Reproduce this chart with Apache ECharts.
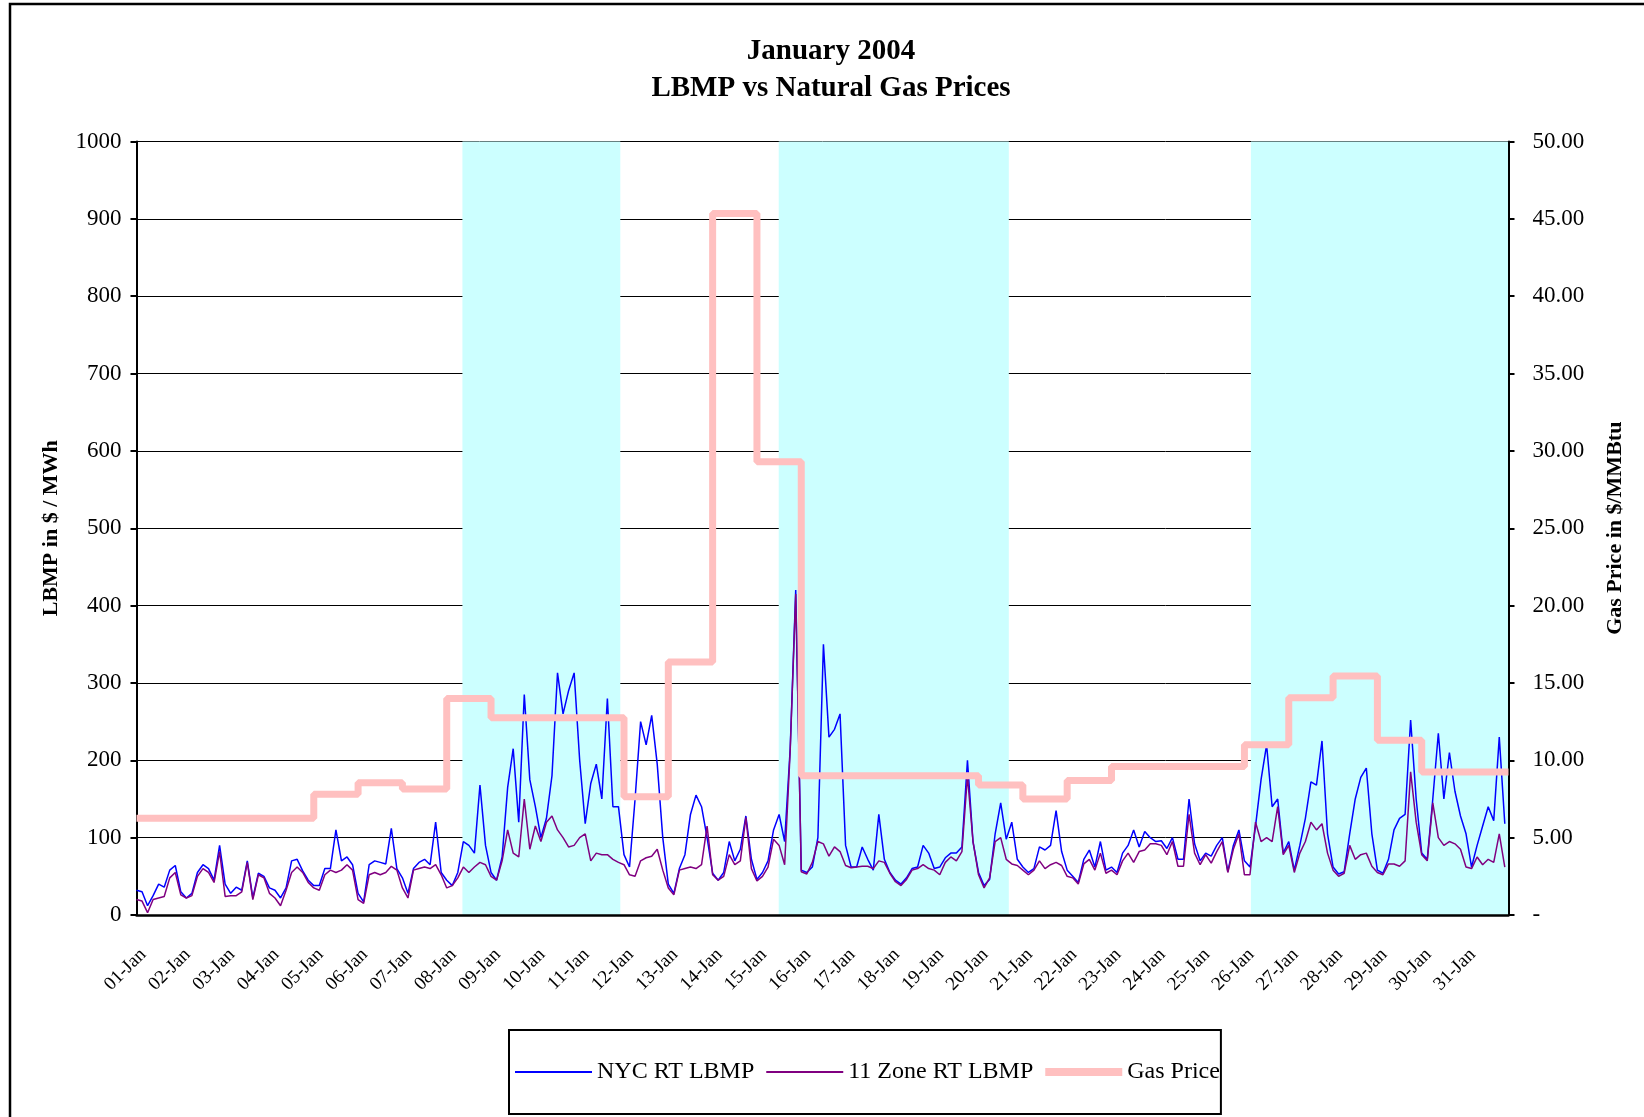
<!DOCTYPE html>
<html>
<head>
<meta charset="utf-8">
<title>January 2004 LBMP vs Natural Gas Prices</title>
<script src="https://cdn.jsdelivr.net/npm/echarts@6/dist/echarts.min.js"></script>
<style>
html,body{margin:0;padding:0;background:#fff;}
#chart{width:1644px;height:1117px;}
</style>
</head>
<body>
<div id="chart"></div>
<script>
//日期标签
var days = ['01-Jan','02-Jan','03-Jan','04-Jan','05-Jan','06-Jan','07-Jan','08-Jan','09-Jan','10-Jan',
    '11-Jan','12-Jan','13-Jan','14-Jan','15-Jan','16-Jan','17-Jan','18-Jan','19-Jan','20-Jan',
    '21-Jan','22-Jan','23-Jan','24-Jan','25-Jan','26-Jan','27-Jan','28-Jan','29-Jan','30-Jan','31-Jan'];
//NYC RT LBMP, every 3 hours (8 per day)
var nycLbmp = [
    32,30,12,25,40,36,58,64,
    30,22,28,55,65,60,45,90,
    40,28,36,32,70,22,54,50,
    35,32,22,35,70,72,57,45,
    38,38,60,60,110,70,75,65,
    28,17,65,70,68,66,112,60,
    48,28,60,68,72,65,120,55,
    45,38,55,95,90,80,168,90,
    55,45,75,165,215,120,285,175,
    140,100,125,180,313,260,290,313,
    200,118,170,195,150,280,140,140,
    78,62,150,250,220,258,195,100,
    40,28,60,78,130,155,140,100,
    54,45,55,95,70,85,128,72,
    46,55,70,110,130,95,215,420,
    58,55,62,100,350,230,240,260,
    90,62,62,88,72,58,130,72,
    55,45,40,48,60,62,90,80,
    60,62,74,80,80,88,200,95,
    55,38,46,105,145,98,120,72,
    62,55,60,88,84,90,135,82,
    58,50,42,72,84,62,95,58,
    62,55,80,90,110,88,108,100,
    95,96,86,100,72,72,150,92,
    70,80,76,90,100,56,90,110,
    70,62,115,175,220,140,150,80,
    95,58,90,125,172,168,225,105,
    62,53,56,105,150,178,190,105,
    58,54,72,110,125,130,252,150,
    80,72,150,235,150,210,160,128,
    105,62,90,115,140,122,230,118
];
//11 Zone RT LBMP, every 3 hours
var zoneLbmp = [
    20,18,3,20,22,24,48,55,
    26,22,25,50,60,55,42,82,
    24,25,25,30,68,20,52,48,
    28,22,12,32,55,62,55,42,
    35,32,52,58,55,58,65,58,
    20,15,52,55,52,55,63,58,
    35,22,58,60,62,60,65,52,
    35,38,48,62,55,62,68,65,
    50,45,70,110,80,75,150,85,
    115,95,120,128,110,100,88,90,
    100,105,70,80,78,78,72,68,
    65,52,50,70,74,76,85,58,
    35,26,58,60,62,60,65,115,
    52,45,50,78,65,70,126,60,
    44,50,62,98,90,65,212,415,
    56,53,68,95,92,76,88,82,
    64,61,62,63,63,60,70,68,
    54,43,38,46,58,60,65,60,
    58,52,68,75,70,82,180,95,
    52,35,48,95,100,72,66,64,
    58,52,58,70,60,65,68,64,
    50,48,40,66,72,58,80,54,
    58,52,70,80,68,82,84,92,
    92,90,78,95,63,63,130,80,
    65,78,67,82,95,55,85,105,
    52,52,120,95,100,95,140,78,
    90,55,80,95,120,110,118,80,
    58,50,54,90,72,78,80,63,
    55,52,66,66,63,70,185,120,
    78,70,145,100,90,95,92,85,
    62,60,75,65,72,68,105,62
];
//天然气价格 (daily)
var gasPrice = [6.25,6.25,6.25,6.25,7.8,8.55,8.15,14.0,12.75,12.75,
    12.75,7.65,16.35,45.35,29.3,9.0,9.0,9.0,9.0,8.4,
    7.5,8.7,9.6,9.6,9.6,11.0,14.05,15.45,11.3,9.25,9.25];
//shaded periods, in hours from 01-Jan 00:00
var shadeHours = [[176.5,262],[347.8,472.4],[603.5,743]];

var font = 'Liberation Serif';
var hoursPerPoint = 24 / 8;
var lastHour = days.length * 24 - 1;

var nycData = [], zoneData = [];
for (var i = 0; i < nycLbmp.length; i++) {
    nycData.push([i * hoursPerPoint, nycLbmp[i]]);
    zoneData.push([i * hoursPerPoint, zoneLbmp[i]]);
}
var gasData = [];
for (var d = 0; d < gasPrice.length; d++) {
    gasData.push([d * 24, gasPrice[d]]);
}
gasData.push([lastHour, gasPrice[gasPrice.length - 1]]);

var shadeAreas = [];
for (var s = 0; s < shadeHours.length; s++) {
    shadeAreas.push([{xAxis: shadeHours[s][0], yAxis: 0}, {xAxis: shadeHours[s][1], yAxis: 1000}]);
}

var myChart = echarts.init(document.getElementById('chart'));
var option = {
    animation: false,
    backgroundColor: '#fff',
    textStyle: {fontFamily: font, color: '#000'},
    title: {
        text: 'January 2004\nLBMP vs Natural Gas Prices',
        left: 831,
        top: 33,
        padding: 0,
        textAlign: 'center',
        textStyle: {fontFamily: font, fontSize: 29, fontWeight: 'bold', lineHeight: 37, color: '#000'}
    },
    graphic: [{
        type: 'rect',
        silent: true,
        shape: {x: 10, y: 4, width: 1700, height: 1200},
        style: {fill: 'none', stroke: '#000', lineWidth: 2.5}
    }],
    legend: {
        left: 509,
        top: 1030,
        orient: 'horizontal',
        borderColor: '#000',
        borderWidth: 2,
        padding: [30, 1, 30, 6],
        itemGap: 12,
        itemWidth: 77,
        itemHeight: 8,
        textStyle: {fontFamily: font, fontSize: 24, color: '#000'},
        data: [
            {name: 'NYC RT LBMP', icon: 'path://M0,0H77V2H0Z'},
            {name: '11 Zone RT LBMP', icon: 'path://M0,0H77V2H0Z'},
            {name: 'Gas Price', icon: 'path://M0,0H77V8H0Z'}
        ]
    },
    grid: {left: 136.5, right: 135.5, top: 141.5, bottom: 202},
    xAxis: {
        type: 'value',
        min: 0,
        max: lastHour,
        interval: 24,
        z: 3,
        axisLine: {lineStyle: {color: '#000', width: 2.5}},
        axisTick: {show: false},
        splitLine: {show: false},
        axisLabel: {
            rotate: 45,
            margin: 30,
            fontSize: 19,
            fontFamily: font,
            color: '#000',
            verticalAlign: 'top',
            showMaxLabel: false,
            formatter: function (v) {
                var k = v / 24;
                return (v % 24 === 0 && k < days.length) ? days[k] : '';
            }
        }
    },
    yAxis: [{
        type: 'value',
        position: 'left',
        min: 0,
        max: 1000,
        interval: 100,
        axisLine: {show: true, lineStyle: {color: '#000', width: 2}},
        axisTick: {show: true, length: 6, lineStyle: {color: '#000', width: 2}},
        axisLabel: {
            margin: 15, fontSize: 23, fontFamily: font, color: '#000',
            formatter: function (v) { return String(v); }
        },
        splitLine: {show: true, lineStyle: {color: '#000', width: 1}},
        name: 'LBMP in $ / MWh',
        nameLocation: 'middle',
        nameGap: 74,
        nameTextStyle: {fontFamily: font, fontSize: 22, fontWeight: 'bold', color: '#000'}
    }, {
        type: 'value',
        position: 'right',
        min: 0,
        max: 50,
        interval: 5,
        z: 3,
        axisLine: {show: true, lineStyle: {color: '#000', width: 2}},
        axisTick: {show: true, length: 6, lineStyle: {color: '#000', width: 2}},
        axisLabel: {
            margin: 24, fontSize: 23, fontFamily: font, color: '#000',
            formatter: function (v) { return v === 0 ? '-' : v.toFixed(2); }
        },
        splitLine: {show: false},
        name: 'Gas Price in $/MMBtu',
        nameLocation: 'middle',
        nameGap: 96,
        nameTextStyle: {fontFamily: font, fontSize: 22, fontWeight: 'bold', color: '#000'}
    }],
    series: [{
        name: 'NYC RT LBMP',
        type: 'line',
        data: nycData,
        symbol: 'none',
        lineStyle: {color: '#0000ff', width: 1.5},
        itemStyle: {color: '#0000ff'},
        markArea: {
            silent: true,
            itemStyle: {color: '#ccffff', opacity: 1},
            data: shadeAreas
        }
    }, {
        name: '11 Zone RT LBMP',
        type: 'line',
        data: zoneData,
        symbol: 'none',
        lineStyle: {color: '#800080', width: 1.5},
        itemStyle: {color: '#800080'}
    }, {
        name: 'Gas Price',
        type: 'line',
        yAxisIndex: 1,
        step: 'end',
        data: gasData,
        symbol: 'none',
        lineStyle: {color: '#ffc0c0', width: 7},
        itemStyle: {color: '#ffc0c0'}
    }]
};
myChart.setOption(option);
</script>
</body>
</html>
